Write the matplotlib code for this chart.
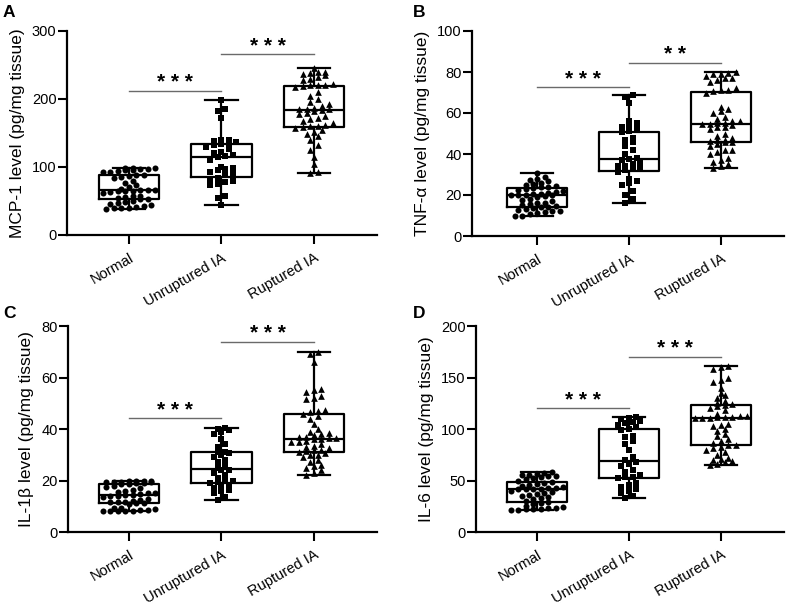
import matplotlib
matplotlib.use('Agg')
import matplotlib.pyplot as plt
import numpy as np

plt.rcParams['font.family'] = ['Liberation Sans', 'DejaVu Sans']

groups = ['Normal', 'Unruptured IA', 'Ruptured IA']

# A: MCP-1
mcp1_normal = [99, 98, 98, 97, 97, 96, 95, 94, 93, 92, 88, 88, 87, 86, 84, 80, 76, 74, 70, 67,
               66, 66, 66, 65, 65, 64, 63, 62, 58, 57, 56, 54, 53, 53, 50, 48, 47, 46, 44, 42,
               41, 40, 39, 39, 38]
mcp1_unrupt = [198, 186, 182, 172, 140, 139, 138, 137, 135, 134, 133, 130, 127, 122, 120, 117, 116, 115,
               110, 100, 99, 97, 95, 92, 89, 88, 84, 82, 80, 78, 75, 73, 58, 55, 44]
mcp1_rupt = [245, 240, 239, 238, 237, 235, 232, 230, 228, 222, 221, 220, 220, 219, 218, 210, 205, 200,
             195, 192, 190, 187, 186, 186, 185, 184, 182, 180, 178, 175, 172, 170, 168, 165, 162, 160,
             160, 159, 158, 155, 152, 148, 145, 140, 132, 125, 115, 105, 92, 91]

# B: TNF-a
tnf_normal = [30.5, 29, 28, 27.5, 27, 26, 25.5, 25, 24.5, 24, 24, 23.5, 23, 22.5, 22, 21.5, 21, 20.5,
              20.5, 20, 20, 20, 19.8, 19.5, 19, 18, 17.5, 17, 16, 16, 15.5, 15, 14.5, 14, 14, 13.5,
              13, 12.5, 12, 12, 11.5, 11, 10.5, 10, 9.7]
tnf_unrupt = [69, 68, 65, 56, 55, 54, 53, 52, 51, 50.5, 48, 47, 46, 44, 42, 40, 38, 37.5, 37, 36, 35,
              34, 34, 33, 33, 32, 31, 28, 27, 26, 25, 22, 20, 18, 16]
tnf_rupt = [80, 79.5, 79, 79, 78, 77, 77, 76, 75, 72, 71, 71, 70.5, 70, 63, 62, 61, 60, 58, 57, 56, 56,
            55, 55, 54.5, 54.5, 54, 53, 53, 52, 50, 49, 48, 47, 47, 46.5, 46, 46, 45, 44, 42, 42, 41,
            40, 38, 37, 36, 35, 34, 33.2]

# C: IL-1b
il1b_normal = [20, 20, 19.8, 19.8, 19.6, 19.5, 19.5, 19.3, 19, 19, 18.8, 18.5, 18, 17.5, 17, 16.5, 16,
               15.5, 15, 15, 14.8, 14.5, 14.5, 14, 14, 13.5, 13, 12.5, 12, 11.8, 11.6, 11.5, 11.3, 11.3,
               11, 9.5, 9.5, 9, 8.5, 8.5, 8.3, 8.2, 8, 8, 8]
il1b_unrupt = [40.5, 40, 39.5, 39, 38, 36, 34, 33, 31, 31, 30.5, 30, 29, 28, 27, 26, 25, 24, 24, 23, 22,
               21, 20, 20, 19.5, 19, 18, 17.5, 17, 16.5, 16, 15, 13.5, 12.5]
il1b_rupt = [70, 69, 66, 55.5, 55, 54.5, 53, 52, 51.5, 47.5, 47, 46.5, 46, 45, 44, 42, 40, 39, 38.5, 38,
             37.5, 37, 37, 36.5, 36.5, 36, 36, 35.5, 35, 35, 34, 33.5, 33, 32.5, 32, 32, 31.5, 31, 30.5,
             30, 30, 29, 28, 27, 26, 25.5, 25, 24, 23, 22.3]

# D: IL-6
il6_normal = [58, 57, 56, 55.5, 55, 54.5, 54, 53, 52, 51, 50, 49, 48, 47, 46, 45, 44, 43, 42.5, 42, 42,
              41.5, 41.5, 40, 39, 38, 37, 36, 35, 34, 33, 32, 30, 29.5, 28, 27, 25, 24, 23, 23, 22.5,
              22, 22, 21.5, 21]
il6_unrupt = [112, 111, 110, 108, 107, 106, 104, 102, 100, 99, 93, 92, 88, 85, 80, 73, 70, 68, 66, 64,
              60, 58, 55, 53, 53.5, 52, 48, 46, 44, 42, 40, 38, 35, 33]
il6_rupt = [161.4, 160, 158, 150, 148, 146, 140, 135, 133, 130, 127, 125, 124, 123, 122, 120, 118, 115,
            113, 112.5, 112, 111.5, 111.5, 111, 111, 110.5, 105, 104, 103, 100, 98, 95, 93, 90, 88, 86,
            84, 84, 83, 82, 80, 78, 75, 72, 71, 70, 69, 68, 66, 65]

labels = ['A', 'B', 'C', 'D']
ylabels = ['MCP-1 level (pg/mg tissue)', 'TNF-\u03b1 level (pg/mg tissue)',
           'IL-1\u03b2 level (pg/mg tissue)', 'IL-6 level (pg/mg tissue)']
ymaxes = [300, 100, 80, 200]
ysteps = [100, 20, 20, 50]
datasets = [[mcp1_normal, mcp1_unrupt, mcp1_rupt],
            [tnf_normal, tnf_unrupt, tnf_rupt],
            [il1b_normal, il1b_unrupt, il1b_rupt],
            [il6_normal, il6_unrupt, il6_rupt]]
sig_levels = [[211.7, 266], [72.5, 84.5], [44.2, 73.8], [120, 170]]
sig_text = [['* * *', '* * *'], ['* * *', '* *'], ['* * *', '* * *'], ['* * *', '* * *']]

W, H = 787, 609
# axes boxes in pixels: left, top, right, bottom
boxes_px = [(67, 31, 377, 235), (472, 31, 784, 236), (68, 326, 377, 532), (476, 326, 784, 532)]
xlims = [(-0.670, 2.681), (-0.707, 2.685), (-0.659, 2.681), (-0.663, 2.685)]
letter_px = [(3, 5), (413, 5), (3, 306), (413, 306)]
markers = ['o', 's', '^']
msizes = [19, 17, 23]


def swarm_x(vals, center, dx, dy, maxrow=8):
    vals = np.asarray(vals, dtype=float)
    order = np.argsort(vals)
    xs = np.zeros(len(vals))
    rows, row, start = [], [], None
    for i in order:
        if start is None or vals[i] - start > dy or len(row) >= maxrow:
            if row:
                rows.append(row)
            row, start = [i], vals[i]
        else:
            row.append(i)
    rows.append(row)
    for r in rows:
        n = len(r)
        for k, i in enumerate(r):
            xs[i] = center + (k - (n - 1) / 2) * dx
    return xs


fig = plt.figure(figsize=(W / 100, H / 100), dpi=100)

for p in range(4):
    l, t, r, b = boxes_px[p]
    ax = fig.add_axes([l / W, 1 - b / H, (r - l) / W, (b - t) / H])
    data = datasets[p]
    ymax = ymaxes[p]
    ax.set_xlim(*xlims[p])
    ax.set_ylim(0, ymax)
    dy = 5.0 * ymax / (b - t)
    dx = 7.5 * (xlims[p][1] - xlims[p][0]) / (r - l)

    ax.boxplot(data, positions=[0, 1, 2], widths=0.65, whis=(0, 100), showfliers=False,
               capwidths=0.35,
               boxprops=dict(color='black', lw=1.6),
               whiskerprops=dict(color='black', lw=1.6),
               capprops=dict(color='black', lw=1.6),
               medianprops=dict(color='black', lw=1.6))
    for g in range(3):
        xs = swarm_x(data[g], g, dx, dy)
        ax.scatter(xs, data[g], marker=markers[g], s=msizes[g], color='black',
                   linewidths=0, zorder=3)

    # significance bars
    for j, (lev, txt) in enumerate(zip(sig_levels[p], sig_text[p])):
        ax.plot([j, j + 1], [lev, lev], color='#6a6a6a', lw=1.0, clip_on=False)
        ax.annotate(txt, xy=(j + 0.5, lev), xytext=(0, -1), textcoords='offset points',
                    ha='center', va='bottom', fontsize=15, fontweight='bold')

    ax.set_xticks([0, 1, 2])
    ax.set_xticklabels(groups, rotation=30, ha='right', va='top', rotation_mode='anchor')
    ax.set_yticks(np.arange(0, ymax + 1, ysteps[p]))
    ax.tick_params(direction='out', length=6.5, width=1.5, labelsize=10.5, pad=1)
    ax.tick_params(axis='x', pad=5)
    for s in ['top', 'right']:
        ax.spines[s].set_visible(False)
    for s in ['left', 'bottom']:
        ax.spines[s].set_linewidth(1.6)
    ax.set_ylabel(ylabels[p], fontsize=12.5, labelpad=5)
    fig.text(letter_px[p][0] / W, 1 - letter_px[p][1] / H, labels[p],
             fontsize=12.5, fontweight='bold', va='top', ha='left')

fig.savefig('out.png', dpi=100)
